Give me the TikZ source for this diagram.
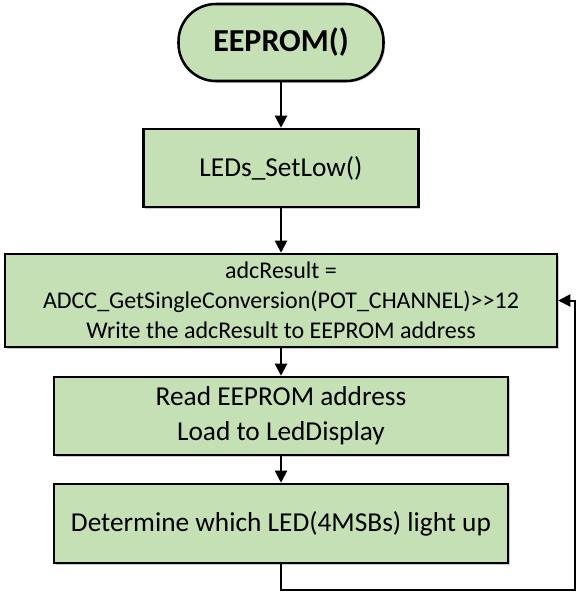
\documentclass[tikz,border=0pt]{standalone}
\usepackage{fontspec}
\setmainfont{Carlito}
\usetikzlibrary{arrows.meta, shadows}
\definecolor{boxgreen}{HTML}{C5E0B4}
\tikzset{
  >={Triangle[length=9pt, width=9pt]},
  every picture/.style={line cap=butt, line join=miter},
  flow/.style={->, line width=1.5pt, black},
  % process boxes of the flowchart
  procbox/.style={draw=black, line width=1.9pt, fill=boxgreen, align=center,
    inner sep=2pt, font=\fontsize{20.5}{25}\selectfont,
    drop shadow={shadow xshift=1.2pt, shadow yshift=-1.2pt, opacity=0.35, fill=black!60}},
  termbox/.style={procbox, rounded corners=28pt, font=\fontsize{24}{28}\selectfont\bfseries},
}
\begin{document}
\begin{tikzpicture}[x=0.75pt, y=-0.75pt]
  \useasboundingbox (0,0) rectangle (578,593);
  \node[termbox, minimum width=153.75pt, minimum height=57.75pt] (term) at (281,42.5) {EEPROM()};
  \node[procbox, minimum width=206.25pt, minimum height=58.5pt] (setlow) at (281,168) {LEDs\_SetLow()};
  \node[procbox, minimum width=414pt, minimum height=69.75pt, font=\fontsize{18}{22.5}\selectfont] (adcread) at (281,300.5)
    {adcResult =\\ADCC\_GetSingleConversion(POT\_CHANNEL)>{}>12\\Write the adcResult to EEPROM address};
  \node[procbox, minimum width=340.5pt, minimum height=58.5pt, font=\fontsize{20.5}{26}\selectfont] (eepload) at (281,416)
    {Read EEPROM address\\Load to LedDisplay};
  \node[procbox, minimum width=340.5pt, minimum height=59.25pt] (ledpick) at (281,523.5)
    {Determine which LED(4MSBs) light up};
  % loop back to the conversion step
  \coordinate (loopcorner) at (575,590);
  \draw[flow] (term.south) -- (setlow.north);
  \draw[flow] (setlow.south) -- (adcread.north);
  \draw[flow] (adcread.south) -- (eepload.north);
  \draw[flow] (eepload.south) -- (ledpick.north);
  \draw[flow] (ledpick.south) |- (loopcorner) |- (adcread.east);
\end{tikzpicture}
\end{document}
